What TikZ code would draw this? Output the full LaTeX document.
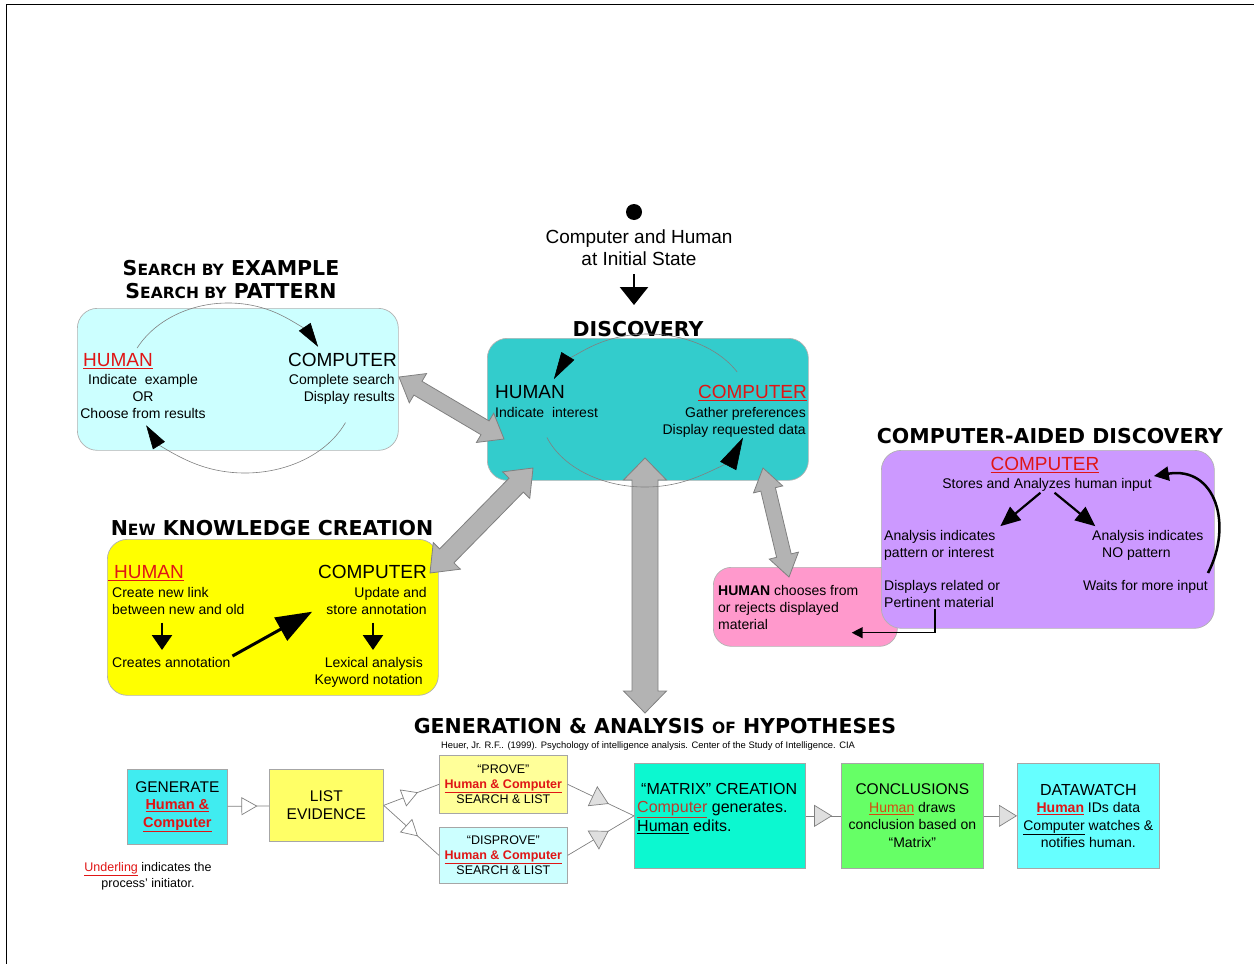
\documentclass[tikz,border=0pt]{standalone}
\usepackage{fontspec}
\setmainfont{Liberation Sans}
\newfontfamily\headfont{DejaVu Sans}
\usetikzlibrary{positioning, arrows.meta, calc, decorations.markings}
\usepackage{xcolor}

\definecolor{searchc}{HTML}{CCFFFF}
\definecolor{discc}{HTML}{33CCCC}
\definecolor{knowc}{HTML}{FFFF00}
\definecolor{aidc}{HTML}{CC99FF}
\definecolor{pinkc}{HTML}{FF99CC}
\definecolor{arrowc}{HTML}{B3B3B3}
\definecolor{edgec}{HTML}{808080}
\definecolor{humanred}{HTML}{E01515}
\definecolor{genc}{HTML}{40ECF0}
\definecolor{listc}{HTML}{FFFF66}
\definecolor{provec}{HTML}{FFFF99}
\definecolor{matrixc}{HTML}{0CF8D0}
\definecolor{conclc}{HTML}{66FF66}
\definecolor{watchc}{HTML}{66FFFF}
\definecolor{brickred}{HTML}{C0392B}
\definecolor{orangered}{HTML}{D9480F}

\newcommand{\hd}[1]{{\fontsize{15.5}{18}\selectfont #1}}
\newcommand{\redul}[1]{\textcolor{humanred}{\underline{#1}}}
\newcommand{\bhum}[1]{\textcolor{humanred}{\textbf{\underline{#1}}}}
% gray two-headed arrow: from, to, half shaft, half head, head length (pt)
\newcommand{\twoway}[5]{%
  \path let \p1=($(#2)-(#1)$) in \pgfextra{%
    \pgfmathsetmacro{\twlen}{veclen(\x1,\y1)}%
    \pgfmathsetmacro{\twang}{atan2(\y1,\x1)}%
    \xdef\twlen{\twlen}\xdef\twang{\twang}};
  \draw[dblarrow, shift={(#1)}, rotate=\twang]
    (0pt,0pt) -- (#5pt,#4pt) -- (#5pt,#3pt) -- ({\twlen pt-#5pt},#3pt) -- ({\twlen pt-#5pt},#4pt)
    -- (\twlen pt,0pt) -- ({\twlen pt-#5pt},-#4pt) -- ({\twlen pt-#5pt},-#3pt)
    -- (#5pt,-#3pt) -- (#5pt,-#4pt) -- cycle;
}

\begin{document}
\begin{tikzpicture}[x=1pt, y=-1pt,
    panel/.style={draw=gray!60, line width=0.7pt, rounded corners=20pt, anchor=north west, inner sep=0pt},
    flowbox/.style={draw=gray!70, line width=0.7pt, anchor=north west, align=center, inner sep=0pt, font=\fontsize{15.5}{17.5}\selectfont},
    heading/.style={inner sep=0pt, align=center, font=\headfont\bfseries\fontsize{20.5}{23.5}\selectfont},
    bodytext/.style={inner sep=0pt, font=\fontsize{14}{17}\selectfont},
    role/.style={inner sep=0pt, font=\fontsize{19}{22}\selectfont},
    loopline/.style={draw=gray, line width=0.6pt, -{Triangle[length=27pt, width=15pt, color=black]}},
    downarrow/.style={line width=2.5pt, -{Triangle[length=15pt, width=20pt]}},
    dblarrow/.style={draw=edgec, fill=arrowc, line width=0.8pt},
    flowline/.style={draw=gray, line width=0.7pt},
    whitetip/.style={postaction={decorate}, decoration={markings, mark=at position #1 with {\arrow{Triangle[length=16pt, width=18pt, fill=white]}}}},
    graytip/.style={postaction={decorate}, decoration={markings, mark=at position #1 with {\arrow{Triangle[length=18pt, width=22pt, fill=gray!25]}}}}
]
\useasboundingbox (0,0) rectangle (1254,964);
\draw[line width=1pt] (6,964) -- (6,4) -- (1254,4);

% panels
\node[panel, fill=searchc, minimum width=321pt, minimum height=142pt] (search) at (77,308) {};
\node[panel, fill=discc, minimum width=321pt, minimum height=142pt] (disc) at (487,338) {};
\node[panel, fill=knowc, minimum width=331pt, minimum height=156pt] (know) at (107,539) {};
\node[panel, fill=pinkc, rounded corners=18pt, minimum width=184pt, minimum height=79pt] (pink) at (713,567) {};
\node[panel, fill=aidc, minimum width=333pt, minimum height=178pt] (aid) at (881,450) {};

% hypotheses boxes
\node[flowbox, fill=genc, minimum width=100pt, minimum height=75pt] (generate) at (127,769)
    {GENERATE\\{\fontsize{14.5}{17.5}\selectfont\bhum{Human \&}}\\{\fontsize{14.5}{17.5}\selectfont\bhum{Computer}}};
\node[flowbox, fill=listc, minimum width=114pt, minimum height=72pt, font=\fontsize{15.5}{18}\selectfont] (listev) at (269,769) {LIST\\EVIDENCE};
\node[flowbox, fill=provec, minimum width=128pt, minimum height=58pt, font=\fontsize{12.5}{15}\selectfont] (prove) at (439,755)
    {“PROVE”\\\bhum{Human \& Computer}\\SEARCH \& LIST};
\node[flowbox, fill=searchc, minimum width=128pt, minimum height=56pt, font=\fontsize{12.5}{15}\selectfont] (disprove) at (439,827)
    {“DISPROVE”\\\bhum{Human \& Computer}\\SEARCH \& LIST};
\node[flowbox, fill=matrixc, minimum width=171pt, minimum height=105pt] (matrix) at (634,763) {};
\node[flowbox, fill=conclc, minimum width=142pt, minimum height=105pt, font=\fontsize{14}{17.5}\selectfont] (concl) at (841,763)
    {{\fontsize{15.5}{17.5}\selectfont CONCLUSIONS}\\\textcolor{orangered}{\underline{Human}} draws\\conclusion based on\\“Matrix”};
\node[flowbox, fill=watchc, minimum width=142pt, minimum height=105pt, font=\fontsize{14}{17.5}\selectfont] (watch) at (1017,763)
    {{\fontsize{16}{17.5}\selectfont DATAWATCH}\\\bhum{Human} IDs data\\\underline{Computer} watches \&\\notifies human.};

% gray two-way arrows
\coordinate (sd1) at (399,377);
\coordinate (sd2) at (504,439);
\coordinate (kd1) at (533,468);
\coordinate (kd2) at (430,573);
\coordinate (dg1) at (645,458);
\coordinate (dg2) at (645,713);
\coordinate (dp1) at (763,468);
\coordinate (dp2) at (789,577);
\twoway{sd1}{sd2}{8}{17}{22}
\twoway{kd1}{kd2}{10}{19}{24}
\twoway{dg1}{dg2}{13}{21.5}{22}
\twoway{dp1}{dp2}{7.5}{15}{22}

% search by example
\node[heading, anchor=north] (searchtitle) at (231,260) {S\hd{EARCH BY} EXAMPLE\\S\hd{EARCH BY} PATTERN};
\coordinate (sloopA) at (228,388);
\coordinate (sloopB) at (245,388);
\draw[loopline, -{Triangle[length=24pt, width=14pt, color=black]}] ([shift={(-152:103 and 85)}]sloopA) arc[start angle=-152, end angle=-29, x radius=103, y radius=85];
\draw[loopline, -{Triangle[length=24pt, width=14pt, color=black]}] ([shift={(24:110 and 85)}]sloopB) arc[start angle=24, end angle=154, x radius=110, y radius=85];
\node[role, anchor=north west] (shuman) at (83,353) {\redul{HUMAN}};
\node[bodytext, anchor=north, align=center] (shtext) at (143,374) {Indicate\ \ example\\OR\\Choose from results};
\node[role, anchor=north east] (scomp) at (397,353) {COMPUTER};
\node[bodytext, anchor=north east, align=right] (sctext) at (395,374) {Complete search\\Display results};

% discovery
\node[circle, fill=black, minimum size=16pt, inner sep=0pt] (dot) at (634,212) {};
\node[role, anchor=north, align=center] (init) at (639,230) {Computer and Human\\at Initial State};
\node[heading, anchor=north] (disctitle) at (638,321) {DISCOVERY};
\draw[downarrow, -{Triangle[length=18pt, width=28pt]}, shorten <=8pt, shorten >=16pt] (dot |- init.south) -- (dot |- disctitle.north);
\coordinate (dloopA) at (648,410);
\coordinate (dloopB) at (645,410);
\draw[loopline] ([shift={(-30:103 and 76)}]dloopA) arc[start angle=-30, end angle=-156, x radius=103, y radius=76];
\draw[loopline, -{Triangle[length=32pt, width=18pt, color=black]}] ([shift={(159:105 and 77)}]dloopB) arc[start angle=159, end angle=21, x radius=105, y radius=77];
\node[role, anchor=north west] (dhuman) at (495,385) {HUMAN};
\node[bodytext, anchor=north west] (dhtext) at (495,407) {Indicate\ \ interest};
\node[role, anchor=north east] (dcomp) at (807,385) {\redul{COMPUTER}};
\node[bodytext, anchor=north east, align=right] (dctext) at (806,407) {Gather preferences\\Display requested data};

% new knowledge creation
\node[heading, anchor=north] (knowtitle) at (272,520) {N\hd{EW} KNOWLEDGE CREATION};
\node[role, anchor=north west] (khuman) at (108,565) {\redul{\hspace*{6pt}HUMAN}};
\node[bodytext, anchor=north west, align=left] (khtext) at (112,587) {Create new link\\between new and old};
\node[bodytext, anchor=north west] (khnote) at (112,657) {Creates annotation};
\node[role, anchor=north east] (kcomp) at (427,565) {COMPUTER};
\node[bodytext, anchor=north east, align=right] (kctext) at (427,587) {Update and\\store annotation};
\node[bodytext, anchor=north east, align=right] (kcnote) at (423,657) {Lexical analysis\\Keyword notation};
\draw[downarrow, shorten <=8pt, shorten >=7pt] ([xshift=50pt]khtext.south west) -- ([xshift=50pt]khtext.south west |- khnote.north);
\draw[downarrow, shorten <=8pt, shorten >=7pt] ([xshift=-54pt]kctext.south east) -- ([xshift=-54pt]kctext.south east |- kcnote.north);
\draw[line width=3pt, -{Triangle[length=36pt, width=26pt]}, shorten <=2pt] (khnote.north east) -- ([xshift=-14pt, yshift=3pt]kctext.south west);

% human chooses
\node[bodytext, anchor=north west, align=left] (ptext) at (718,585) {\textbf{HUMAN} chooses from\\or rejects displayed\\material};

% computer-aided discovery
\node[heading, anchor=north] (aidtitle) at (1050,428) {COMPUTER-AIDED DISCOVERY};
\node[role, anchor=north] (acomp) at (1045,457) {\redul{COMPUTER}};
\node[bodytext, anchor=north] (atext) at (1047,478) {Stores and Analyzes human input};
\node[bodytext, anchor=north west, align=left] (ayes) at (884,530) {Analysis indicates\\pattern or interest};
\node[bodytext, anchor=north west, align=left] (ano) at (1092,530) {Analysis indicates\\\hspace*{10pt}NO pattern};
\node[bodytext, anchor=north west, align=left] (ashow) at (884,580) {Displays related or\\Pertinent material};
\node[bodytext, anchor=north east] (await) at (1208,580) {Waits for more input};
\draw[line width=2.2pt, -{Triangle[length=20pt, width=17pt]}, shorten <=2pt, shorten >=6pt] ([xshift=-5pt]atext.south) -- (ayes.north east);
\draw[line width=2.2pt, -{Triangle[length=20pt, width=17pt]}, shorten <=2pt, shorten >=6pt] ([xshift=6pt]atext.south) -- ([xshift=8pt]ano.north west);
\draw[line width=2.5pt, -{Triangle[length=15pt, width=14pt]}] ([yshift=7pt]await.north east) .. controls +(25,-48) and +(62,-10) .. ([xshift=2pt, yshift=2pt]atext.north east);
\draw[line width=1.5pt, -{Triangle[length=11pt, width=11pt]}] ([xshift=51pt, yshift=-1pt]ashow.south west) |- ([xshift=-46pt, yshift=14pt]pink.south east);

% generation & analysis of hypotheses
\node[heading, anchor=north] (hyptitle) at (655,718) {GENERATION \& ANALYSIS \hd{OF} HYPOTHESES};
\node[inner sep=0pt, anchor=north, font=\fontsize{9.4}{11}\selectfont] (cite) at (648,741)
    {Heuer, Jr. R.F.. (1999). Psychology of intelligence analysis. Center of the Study of Intelligence. CIA};
\node[inner sep=0pt, anchor=north west, align=left, font=\fontsize{16}{18.5}\selectfont] (matrixtext) at (637,783)
    {\hspace*{4pt}“MATRIX” CREATION\\\textcolor{brickred}{\underline{Computer}} generates.\\\underline{Human} edits.};
\node[inner sep=0pt, anchor=north, align=center, font=\fontsize{12.5}{16}\selectfont] (note) at (148,862)
    {\redul{Underling} indicates the\\process' initiator.};

\draw[flowline, whitetip=0.72] (generate) -- (listev);
\draw[flowline, whitetip=0.62] (listev.east) -- (prove.west);
\draw[flowline, whitetip=0.62] (listev.east) -- (disprove.west);
\draw[flowline, graytip=0.62] (prove.east) -- (matrix.west);
\draw[flowline, graytip=0.62] (disprove.east) -- (matrix.west);
\draw[flowline, graytip=0.75] (matrix) -- (concl);
\draw[flowline, -{Triangle[length=18pt, width=22pt, fill=gray!25]}] (concl) -- (watch);
\end{tikzpicture}
\end{document}
